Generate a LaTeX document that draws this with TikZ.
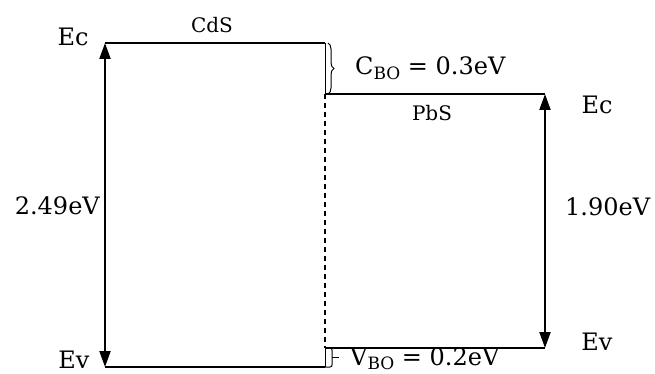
\documentclass[tikz,border=0pt]{standalone}
\usepackage{fontspec}
\setmainfont{DejaVu Serif}
\usetikzlibrary{arrows.meta,decorations.pathreplacing}
\begin{document}
\begin{tikzpicture}[x=1pt,y=-1pt,
  band/.style={line width=1.9pt},
  gaparrow/.style={line width=2pt,{Triangle[length=16pt,width=11pt]}-{Triangle[length=16pt,width=11pt]}},
  biglabel/.style={font=\fontsize{24}{28}\selectfont,inner sep=0pt},
  smalllabel/.style={font=\fontsize{20}{24}\selectfont,inner sep=0pt},
  bracebox/.style={line width=1pt,decorate,decoration={brace,amplitude=#1}}]
\useasboundingbox (0,0) rectangle (655,374);
% corner coordinates
\coordinate (cdsTL) at (105,43);
\coordinate (cdsTR) at (325,43);
\coordinate (cdsBL) at (105,367);
\coordinate (cdsBR) at (325,367);
\coordinate (pbsTL) at (325,94);
\coordinate (pbsTR) at (545,94);
\coordinate (pbsBL) at (325,348);
\coordinate (pbsBR) at (545,348);
% bands
\draw[band] (cdsTL) -- (cdsTR);
\draw[band] (cdsBL) -- (cdsBR);
\draw[band] (pbsTL) -- (pbsTR);
\draw[band] (pbsBL) -- (pbsBR);
\draw[line width=1pt] (cdsTR) -- (pbsTL);
\draw[line width=1pt] (pbsBL) -- (cdsBR);
\draw[line width=1.1pt,dash pattern=on 5pt off 4pt] (pbsTL) -- (pbsBL);
% gap arrows
\draw[gaparrow] (cdsBL) -- (cdsTL);
\draw[gaparrow] (pbsBR) -- (pbsTR);
% offsets brackets
\draw[bracebox=6pt] (328,43) -- (328,94);
\coordinate (vbtip) at (339,357.5);
\draw[line width=1pt,rounded corners=2pt] (pbsBL) -- (332,348) -- (332,367) -- (cdsBR);
\draw[line width=1pt] (332,357.5) -- (vbtip);
% labels
\node[biglabel] (ecl) at (73,37) {Ec};
\node[biglabel] (evl) at (74,360) {Ev};
\node[biglabel] (ecr) at (597,105) {Ec};
\node[biglabel] (evr) at (597,342) {Ev};
\node[biglabel,anchor=east] (gapl) at (100,206) {2.49eV};
\node[biglabel,anchor=west] (gapr) at (565,207) {1.90eV};
\node[smalllabel] (cds) at (212,25) {CdS};
\node[smalllabel] (pbs) at (432,113) {PbS};
\node[biglabel,anchor=west] (cbo) at (355,68) {C\raisebox{-0.4ex}{\fontsize{17}{18}\selectfont BO} = 0.3eV};
\node[biglabel,anchor=west] (vbo) at (350,359) {V\raisebox{-0.3ex}{\fontsize{17}{18}\selectfont BO} = 0.2eV};
\end{tikzpicture}
\end{document}
